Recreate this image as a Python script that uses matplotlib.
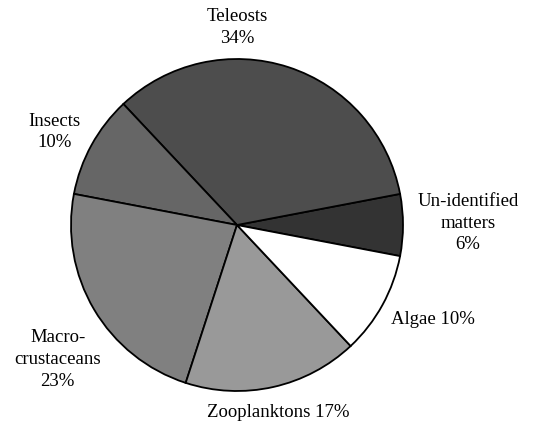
"""Diet composition pie chart."""
import matplotlib
matplotlib.use('Agg')
import matplotlib.pyplot as plt

plt.rcParams['font.family'] = ['Liberation Serif', 'DejaVu Serif']

# data
categories = ['Un-identified\nmatters', 'Teleosts', 'Insects',
              'Macro-\ncrustaceans', 'Zooplanktons', 'Algae']
shares = [6, 34, 10, 23, 17, 10]
colors = ['#333333', '#4d4d4d', '#666666', '#808080', '#999999', '#ffffff']

# label text layout: (x, y) in pie-radius units, and whether % goes on same line
label_pos = [(1.39, 0.01), (0.0, 1.19), (-1.10, 0.56),
             (-1.08, -0.81), (0.25, -1.13), (1.18, -0.57)]
same_line = [False, False, False, False, True, True]

# pixel geometry of the pie in the 534x423 canvas
W, H = 534, 423
CX, CY, R = 237, 198, 166   # centre (from bottom) and radius in px

fig = plt.figure(figsize=(W / 100, H / 100), dpi=100)
ax = fig.add_axes([0, 0, 1, 1])

start = -shares[0] * 3.6 / 2
ax.pie(shares, colors=colors, startangle=start, counterclock=True,
       wedgeprops=dict(edgecolor='black', linewidth=1.3))

for name, val, (x, y), inline in zip(categories, shares, label_pos, same_line):
    sep = ' ' if inline else '\n'
    ax.text(x, y, f'{name}{sep}{val}%', ha='center', va='center',
            fontsize=13.5, linespacing=1.35)

ax.set_aspect('auto')
ax.set_xlim(-CX / R, (W - CX) / R)
ax.set_ylim(-CY / R, (H - CY) / R)
ax.axis('off')

fig.savefig('out.png', dpi=100)
plt.close(fig)
